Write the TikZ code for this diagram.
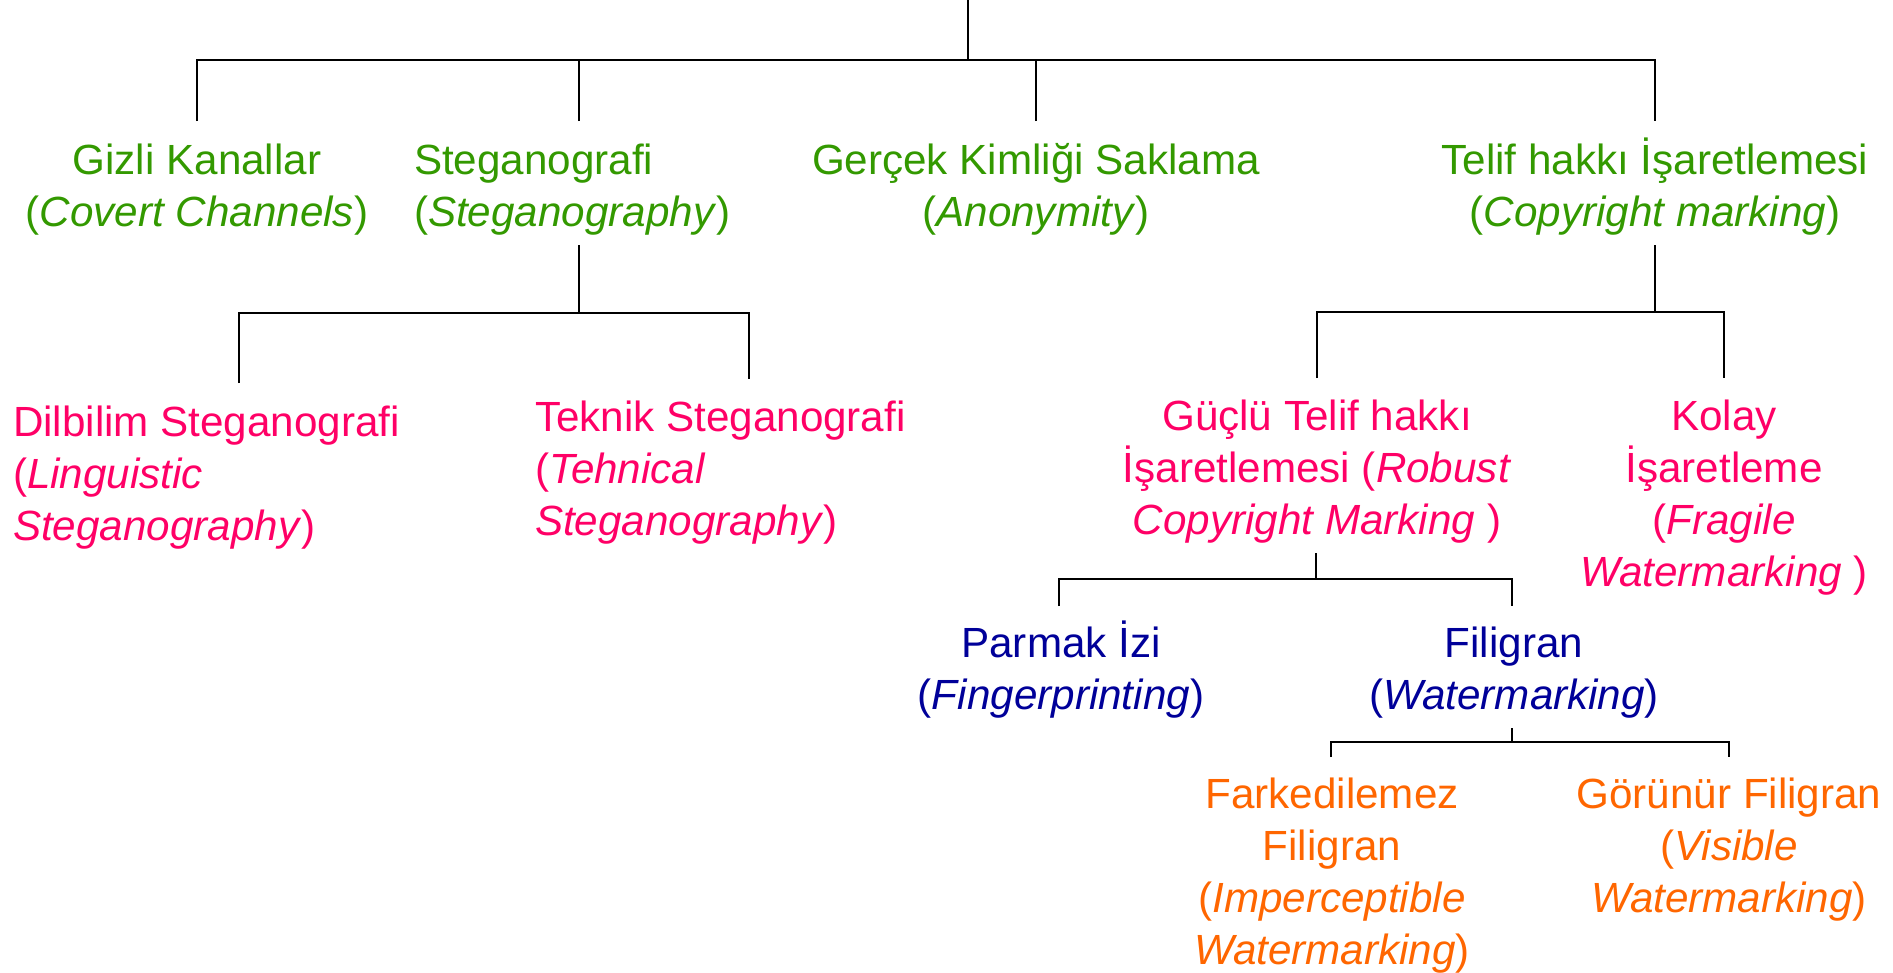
\documentclass[tikz,border=0pt]{standalone}
\usepackage{fontspec}
\setmainfont{Liberation Sans}
\definecolor{lvlgreen}{RGB}{51,153,0}
\definecolor{lvlpink}{RGB}{255,0,102}
\definecolor{lvlblue}{RGB}{0,0,153}
\definecolor{lvlorange}{RGB}{255,102,0}
\newcommand{\lnstrut}{\rule{0pt}{12pt}}

\begin{document}
\begin{tikzpicture}[x=0.01cm,y=-0.01cm,
lbl/.style={inner sep=0pt, outer sep=0pt, align=center, anchor=north, font=\fontsize{12}{14.8}\selectfont},
lbll/.style={lbl, align=left, anchor=north west}]

\tikzset{branch/.style={line width=0.65pt, black}}

\useasboundingbox (0,0) rectangle (1893,972);

% level 1
\node[lbl, text=lvlgreen] (gizli) at (197,132) {\lnstrut Gizli Kanallar\\(\textit{Covert Channels})};
\node[lbll, text=lvlgreen] (stegano) at (414,132) {\lnstrut Steganografi\\(\textit{Steganography})};
\node[lbl, text=lvlgreen] (anonim) at (1036,132) {\lnstrut Gerçek Kimliği Saklama\\(\textit{Anonymity})};
\node[lbl, text=lvlgreen] (telif) at (1655,132) {\lnstrut Telif hakkı İşaretlemesi\\(\textit{Copyright marking})};

% level 2
\node[lbll, text=lvlpink] (dilbilim) at (13,394) {\lnstrut Dilbilim Steganografi\\(\textit{Linguistic}\\\textit{Steganography})};
\node[lbll, text=lvlpink] (teknik) at (535,389) {\lnstrut Teknik Steganografi\\(\textit{Tehnical}\\\textit{Steganography})};
\node[lbl, text=lvlpink] (guclu) at (1317,388) {\lnstrut Güçlü Telif hakkı\\İşaretlemesi (\textit{Robust}\\\textit{Copyright Marking} )};
\node[lbl, text=lvlpink] (kolay) at (1724,388) {\lnstrut Kolay\\İşaretleme\\(\textit{Fragile}\\\textit{Watermarking} )};

% level 3
\node[lbl, text=lvlblue] (parmak) at (1061,615) {\lnstrut Parmak İzi\\(\textit{Fingerprinting})};
\node[lbl, text=lvlblue] (filigran) at (1514,615) {\lnstrut Filigran\\(\textit{Watermarking})};

% level 4
\node[lbl, text=lvlorange] (farked) at (1332,766) {\lnstrut Farkedilemez\\Filigran\\(\textit{Imperceptible}\\\textit{Watermarking})};
\node[lbl, text=lvlorange] (gorunur) at (1729,766) {\lnstrut Görünür Filigran\\(\textit{Visible}\\\textit{Watermarking})};

% branch points
\coordinate (top) at (968,0);
\coordinate (top-fork) at (968,60);
\coordinate (gizli-in) at (197,121);
\coordinate (stegano-in) at (579,121);
\coordinate (anonim-in) at (1036,121);
\coordinate (telif-in) at (1655,121);

\coordinate (stegano-out) at (579,245);
\coordinate (stegano-fork) at (579,313);
\coordinate (dilbilim-in) at (239,383);
\coordinate (teknik-in) at (749,379);

\coordinate (telif-out) at (1655,245);
\coordinate (telif-fork) at (1655,312);
\coordinate (guclu-in) at (1317,378);
\coordinate (kolay-in) at (1724,378);

\coordinate (guclu-out) at (1316,553);
\coordinate (guclu-fork) at (1316,579);
\coordinate (parmak-in) at (1059,606);
\coordinate (filigran-in) at (1512,606);

\coordinate (filigran-out) at (1512,728);
\coordinate (filigran-fork) at (1512,742);
\coordinate (farked-in) at (1331,757);
\coordinate (gorunur-in) at (1729,757);

\draw[branch] (top) -- (top-fork);
\draw[branch] (gizli-in) |- (top-fork) -| (telif-in);
\draw[branch] (stegano-in) -- (stegano-in |- top-fork);
\draw[branch] (anonim-in) -- (anonim-in |- top-fork);

\draw[branch] (stegano-out) -- (stegano-fork);
\draw[branch] (dilbilim-in) |- (stegano-fork) -| (teknik-in);

\draw[branch] (telif-out) -- (telif-fork);
\draw[branch] (guclu-in) |- (telif-fork) -| (kolay-in);

\draw[branch] (guclu-out) -- (guclu-fork);
\draw[branch] (parmak-in) |- (guclu-fork) -| (filigran-in);

\draw[branch] (filigran-out) -- (filigran-fork);
\draw[branch] (farked-in) |- (filigran-fork) -| (gorunur-in);

\end{tikzpicture}
\end{document}
